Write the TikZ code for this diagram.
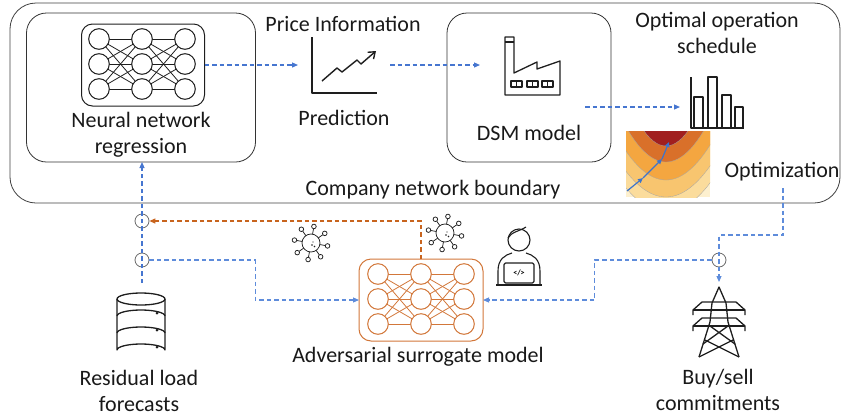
\documentclass[tikz,border=0pt]{standalone}
\usepackage{fontspec}
\setmainfont{Carlito}
\usetikzlibrary{arrows.meta,calc}

\definecolor{flowblue}{HTML}{4676D0}
\definecolor{flowlight}{HTML}{5E8CDB}
\definecolor{advorange}{HTML}{C8641E}
\definecolor{netorange}{HTML}{D2773A}
\definecolor{iconink}{HTML}{1E1E1E}
\definecolor{junction}{HTML}{6A6A6A}
\definecolor{lvlA}{HTML}{A11F1F}
\definecolor{lvlB}{HTML}{D9702A}
\definecolor{lvlC}{HTML}{F4A640}
\definecolor{lvlD}{HTML}{F8C56F}
\definecolor{lvlE}{HTML}{FBDC9C}
\definecolor{lvlF}{HTML}{FDF0CF}
\definecolor{pathblue}{HTML}{3C74CC}

\tikzset{
  lab/.style={font=\fontsize{22}{26}\selectfont, align=center, inner sep=0pt, text=black!90},
  panel/.style={draw=black!80, line width=0.8, rounded corners=20},
  iconline/.style={draw=iconink, line width=1.3, line join=round},
  thinicon/.style={draw=iconink, line width=0.75},
  flow/.style={draw=flowblue, line width=1.2, dash pattern=on 4.5pt off 3pt},
  flowpale/.style={draw=flowlight, line width=1.1, dash pattern=on 4.5pt off 3pt},
  advflow/.style={draw=advorange, line width=1.2, dash pattern=on 4.5pt off 3pt},
  tip/.style={-{Triangle[length=6pt,width=5pt]}},
  hub/.style={circle, draw=junction, line width=0.8, minimum size=14pt, inner sep=0pt},
  slot/.style={inner sep=0pt, outer sep=0pt},
}

% three-layer network: centre x, centre y, colour
\newcommand\drawnnet[3]{%
  \foreach \i in {-25,0,25}{
    \foreach \j in {-25,0,25}{
      \draw[#3, line width=0.8] (#1-43,#2+\i) -- (#1,#2+\j);
      \draw[#3, line width=0.8] (#1,#2+\i) -- (#1+43,#2+\j);
    }
  }
  \foreach \c in {-43,0,43}{
    \foreach \r in {-25,0,25}{
      \draw[#3, line width=1, fill=white] (#1+\c,#2+\r) circle[radius=10.3];
    }
  }
}

% virus particle: centre x, centre y
\newcommand\drawvirus[2]{%
  \begin{scope}[shift={(#1,#2)}]
    \draw[thinicon] (0,0) circle[radius=9];
    \foreach \a in {10,55,100,145,190,235,280,325}{
      \draw[thinicon] (\a:9) -- (\a:14.5);
      \draw[thinicon, fill=white] (\a:16.8) circle[radius=2.3];
    }
    \fill[iconink] (1,2) circle[radius=0.8] (3.5,3.5) circle[radius=0.8] (2,-1) circle[radius=0.7];
  \end{scope}
}

\begin{document}
\begin{tikzpicture}[x=1pt,y=-1pt]
\useasboundingbox (0,0) rectangle (844,416);

% ---------- company boundary and panels ----------
\node[draw=black!75, line width=0.8, rounded corners=26, minimum width=830, minimum height=200, slot] (boundary) at (425,103) {};
\node[panel, minimum width=229, minimum height=149, slot] (nnbox) at (141,87.5) {};
\node[panel, minimum width=164, minimum height=149, slot] (dsmbox) at (529,87.5) {};

% ---------- regression network ----------
\node[draw=iconink, line width=1, rounded corners=11, minimum width=123, minimum height=82, slot] (nnicon) at (143,65) {};
\drawnnet{142}{64}{iconink}
\node[lab] (nnlabel) at (141,135) {Neural network\\regression};

% ---------- price prediction ----------
\node[slot, minimum width=92, minimum height=60] (chart) at (344,65) {};
\draw[iconline, line width=1.4] (312,37) -- (312,93) -- (377,93);
\draw[iconline, line width=1.4, -{Straight Barb[length=6pt,width=9pt]}] (322,81) -- (337,68) -- (342,72) -- (357,60) -- (361,64) -- (376,51);
\node[lab] (pricelabel) at (343,24) {Price Information};
\node[lab] (predlabel) at (344,118) {Prediction};

% ---------- DSM model ----------
\node[slot, minimum width=102, minimum height=60] (factory) at (531,65) {};
\draw[iconline] (505,95) -- (505,37) -- (514,37) -- (514,73) -- (537,62) -- (537,69) -- (560,61) -- (560,95) -- cycle;
\draw[iconline] (505,42) -- (514,42);
\foreach \wx in {511,527,542}{
  \draw[iconline, line width=1.1] (\wx,81) rectangle (\wx+11,87);
  \draw[iconline, line width=1.1] (\wx+5.5,81) -- (\wx+5.5,87);
}
\node[lab] (dsmlabel) at (529,133) {DSM model};

% ---------- schedule ----------
\node[slot, minimum width=74, minimum height=52] (schedule) at (717,107) {};
\draw[iconline] (691,77) -- (691,128) -- (744,128);
\draw[iconline] (694,128) -- (694,97) -- (703,97) -- (703,128);
\draw[iconline] (708,128) -- (708,77) -- (717,77) -- (717,128);
\draw[iconline] (722,128) -- (722,95) -- (731,95) -- (731,128);
\draw[iconline] (735,128) -- (735,107) -- (743,107) -- (743,128);
\node[lab] (schedlabel) at (717,33) {Optimal operation\\schedule};

% ---------- optimisation landscape ----------
\begin{scope}
  \clip (626,131) rectangle (710,197);
  \fill[lvlF] (626,131) rectangle (710,197);
  \fill[lvlE] plot[domain=590:745, samples=50] (\x,{212-0.015*(\x-666)^2}) -- (745,100) -- (590,100) -- cycle;
  \fill[lvlD] plot[domain=590:745, samples=50] (\x,{197-0.016*(\x-666)^2}) -- (745,100) -- (590,100) -- cycle;
  \fill[lvlC] plot[domain=590:745, samples=50] (\x,{180-0.018*(\x-666)^2}) -- (745,100) -- (590,100) -- cycle;
  \fill[lvlB] plot[domain=590:745, samples=50] (\x,{162-0.022*(\x-666)^2}) -- (745,100) -- (590,100) -- cycle;
  \fill[lvlA] plot[domain=590:745, samples=50] (\x,{146-0.031*(\x-666)^2}) -- (745,100) -- (590,100) -- cycle;
  \foreach \v/\k in {212/0.015,197/0.016,180/0.018,162/0.022,146/0.031}{
    \draw[black!35, line width=0.3] plot[domain=590:745, samples=50] (\x,{\v-\k*(\x-666)^2});
  }
\end{scope}
\begin{scope}[line width=1.2, -{Triangle[length=5pt,width=4.5pt]}]
  \draw[pathblue] (627,191) -- (643,178);
  \draw[pathblue] (643,178) -- (662,159);
  \draw[pathblue] (662,159) -- (669,142);
\end{scope}
\node[lab] (optlabel) at (782,172) {Optimization};
\node[lab] (boundlabel) at (433,190) {Company network boundary};

% ---------- adversarial surrogate ----------
\node[draw=netorange, line width=1, rounded corners=12, minimum width=124, minimum height=82, slot] (surr) at (421,300) {};
\drawnnet{421}{299}{netorange}
\node[lab] (surrlabel) at (418,357) {Adversarial surrogate model};

\drawvirus{311}{243}
\drawvirus{445}{233}

% attacker at a laptop
\node[slot, minimum width=44, minimum height=58] (attacker) at (518,257) {};
\draw[iconline, line width=1.1] (519,240) circle[radius=11];
\draw[iconline, line width=1.1] (508,238) .. controls (511,232) and (520,231) .. (526,227);
\draw[iconline, line width=1.1] (498,284) -- (498,271) .. controls (498,259) and (505,255) .. (512,253);
\draw[iconline, line width=1.1] (540,284) -- (540,271) .. controls (540,259) and (533,255) .. (526,253);
\draw[iconline, line width=1.1, rounded corners=1.5, fill=white] (504,263) rectangle (534,283);
\draw[iconline, line width=1.1] (496,285) -- (542,285);
\node[font=\fontsize{8}{8}\selectfont\bfseries, inner sep=0pt] (codetag) at (519,273) {</>};

% ---------- residual load forecasts ----------
\node[slot, minimum width=50, minimum height=74] (db) at (142,320) {};
\begin{scope}[iconline]
  \draw (141,299) ellipse[x radius=24, y radius=6];
  \draw (117,299) -- (117,350) arc[start angle=180, end angle=360, x radius=24, y radius=6] -- (165,299);
  \draw (117,316) arc[start angle=180, end angle=360, x radius=24, y radius=6];
  \draw (117,333) arc[start angle=180, end angle=360, x radius=24, y radius=6];
\end{scope}
\fill[iconink] (157,313) circle[radius=1.5] (157,330) circle[radius=1.5] (157,347) circle[radius=1.5];
\node[lab] (dblabel) at (139,391) {Residual load\\forecasts};

% ---------- transmission tower ----------
\node[slot, minimum width=54, minimum height=80] (tower) at (719,322) {};
\begin{scope}[iconline, line width=1.3]
  \draw (699,357) -- (710,322) -- (712,303) -- (719,287) -- (726,303) -- (728,322) -- (739,357);
  \draw (693,315) -- (693,310) -- (702,302) -- (736,302) -- (745,310) -- (745,315);
  \draw (693,310) -- (745,310);
  \draw (693,331) -- (693,326) -- (702,318) -- (736,318) -- (745,326) -- (745,331);
  \draw (693,326) -- (745,326);
  \draw (710,326) -- (735,344) (728,326) -- (703,344);
  \draw (705,340) -- (739,357) (733,340) -- (699,357);
\end{scope}
\node[lab] (towerlabel) at (718,390) {Buy/sell\\commitments};

% ---------- junctions ----------
\node[hub] (j1) at (142,221) {};
\node[hub] (j2) at (142,260) {};
\node[hub] (j3) at (719,260) {};

% ---------- connectors ----------
\draw[flow, tip] (nnicon.east) -- (chart.west);
\draw[flow, tip] (chart.east) -- (factory.west);
\coordinate (dsmout) at (585,107);
\draw[flow, tip] (dsmout) -- (schedule.west);
\draw[flow, tip] (db.north) -- (nnbox.south -| db.north);
\draw[advflow, tip] (surr.north) |- (j1.east);
\draw[flowpale, tip] (j2.east) -- ++(106,0) |- (surr.west);
\coordinate (optout) at (783,188);
\draw[flowpale, tip] (optout) -- ++(0,47) -| (tower.north);
\draw[flowpale, tip] (j3.west) -- ++(-117,0) |- (surr.east);
\end{tikzpicture}
\end{document}
